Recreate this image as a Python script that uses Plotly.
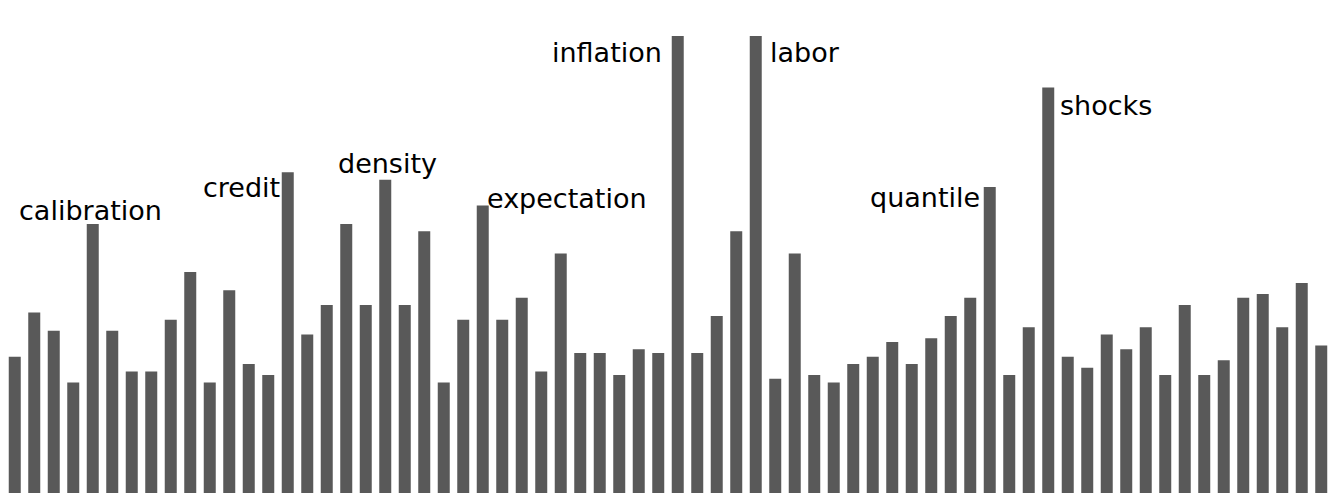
import plotly.graph_objects as go

# word frequency counts (68 terms)
counts = [37, 49, 44, 30, 73, 44, 33, 33, 47, 60,
          30, 55, 35, 32, 87, 43, 51, 73, 51, 85,
          51, 71, 30, 47, 78, 47, 53, 33, 65, 38,
          38, 32, 39, 38, 124, 38, 48, 71, 124, 31,
          65, 32, 30, 35, 37, 41, 35, 42, 48, 53,
          83, 32, 45, 110, 37, 34, 43, 39, 45, 32,
          51, 32, 36, 53, 54, 45, 57, 40]
positions = list(range(len(counts)))

# labelled terms: bar index -> word
label_index = [4, 14, 19, 24, 34, 38, 50, 53]
label_text = ["calibration", "credit", "density", "expectation",
              "inflation", "labor", "quantile", "shocks"]

# label placement styling (pixel offsets from bar top; side of bar)
label_style = {
    "calibration": ("center", -2, 4),
    "credit": ("right", -6, -25),
    "density": ("center", 2, 7),
    "expectation": ("left", 2, -2),
    "inflation": ("right", -14, -26),
    "labor": ("left", 12, -26),
    "quantile": ("right", -8, -20),
    "shocks": ("left", 10, -27),
}

FS = 27
DESC = 8

fig = go.Figure(go.Bar(x=positions, y=counts, marker=dict(color="#595959", line=dict(width=0))))

ann = []
for i, t in zip(label_index, label_text):
    side, dx, dy = label_style[t]
    ann.append(dict(x=positions[i], y=counts[i], text=t, showarrow=False,
                    xanchor=side, yanchor="bottom", xshift=dx, yshift=dy - DESC,
                    font=dict(family="DejaVu Sans", size=FS, color="#000000")))

fig.update_layout(
    width=1322, height=486,
    margin=dict(l=0, r=0, t=0, b=1),
    paper_bgcolor="white", plot_bgcolor="white",
    bargap=0.385, showlegend=False,
    xaxis=dict(range=[-0.3462, 67.449], visible=False),
    yaxis=dict(range=[0, 131.6], visible=False),
    annotations=ann,
)

fig.write_html("out.html")
